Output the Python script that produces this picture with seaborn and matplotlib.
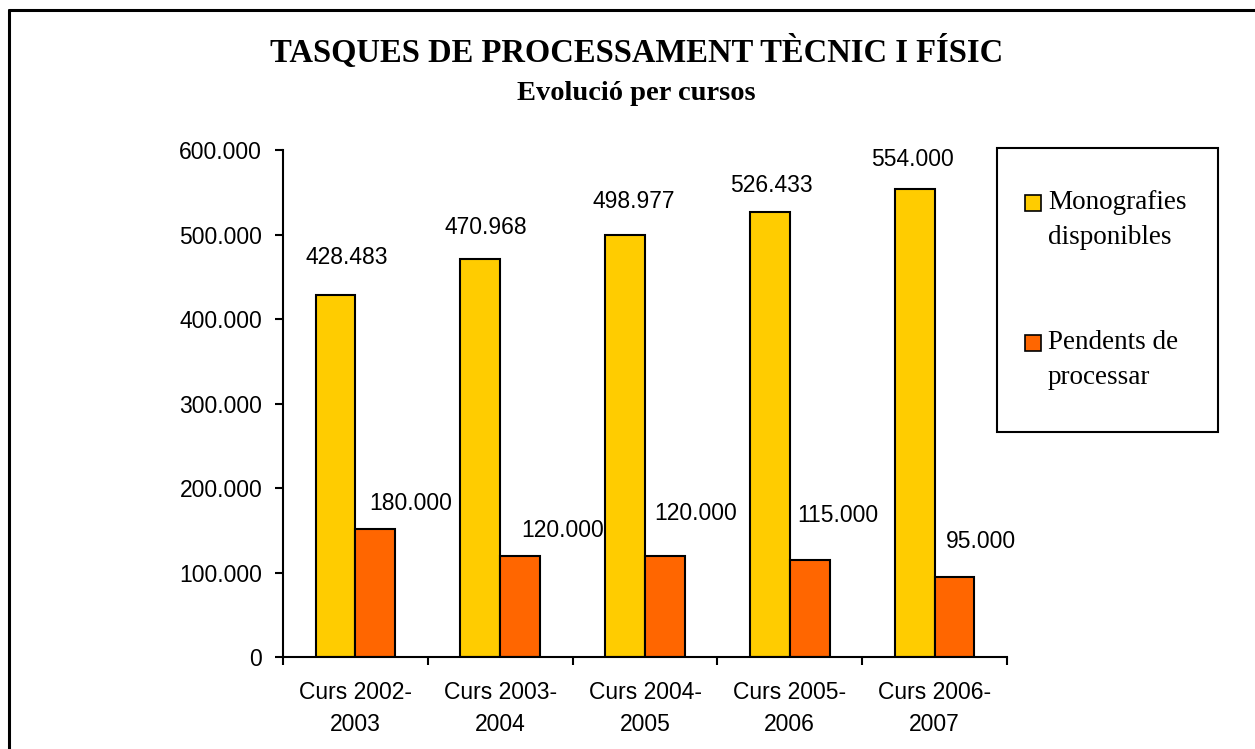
import matplotlib
matplotlib.use("Agg")
import matplotlib.pyplot as plt
import seaborn as sns
import pandas as pd
from matplotlib.ticker import FuncFormatter, FixedLocator
from matplotlib.patches import Rectangle
from matplotlib.lines import Line2D

# Data
cursos = ["Curs 2002-\n2003", "Curs 2003-\n2004", "Curs 2004-\n2005",
          "Curs 2005-\n2006", "Curs 2006-\n2007"]
series = ["Monografies disponibles", "Pendents de processar"]
monografies = [428483, 470968, 498977, 526433, 554000]
pendents = [151000, 120000, 120000, 115000, 95000]
etiquetes_monografies = ["428.483", "470.968", "498.977", "526.433", "554.000"]
etiquetes_pendents = ["180.000", "120.000", "120.000", "115.000", "95.000"]
colors = ["#FFCC00", "#FF6600"]

df = pd.DataFrame({
    "curs": cursos * 2,
    "serie": [series[0]] * len(cursos) + [series[1]] * len(cursos),
    "valor": monografies + pendents,
})

sns.set_style("white")
plt.rcParams["font.family"] = ["Liberation Sans", "DejaVu Sans"]
plt.rcParams["text.color"] = "black"

fig = plt.figure(figsize=(12.55, 7.49), dpi=100)
ax = fig.add_axes([0.2255, 0.1228, 0.5769, 0.6769])

sns.barplot(data=df, x="curs", y="valor", hue="serie", palette=colors,
            saturation=1, width=0.55, edgecolor="black", linewidth=1.5,
            legend=False, ax=ax)

# data labels (Excel placed them by hand, offsets in px)
off_mono = [(11, 37), (6, 32), (9, 34), (2, 27), (-2, 29)]
off_pend = [(35, 26), (43, 25), (31, 42), (28, 44), (26, 35)]
px = 0.72
for cont, labels, offs in [(ax.containers[0], etiquetes_monografies, off_mono),
                           (ax.containers[1], etiquetes_pendents, off_pend)]:
    for bar, lab, (dx, dy) in zip(cont, labels, offs):
        ax.annotate(lab, (bar.get_x() + bar.get_width() / 2, bar.get_height()),
                    xytext=(dx * px, dy * px), textcoords="offset points",
                    ha="center", va="center", fontsize=16.5, color="black")

ax.set_ylim(0, 600000)
ax.set_xlim(-0.5, len(cursos) - 0.5)
ax.set_yticks(range(0, 600001, 100000))
ax.yaxis.set_major_formatter(FuncFormatter(lambda v, p: f"{v:,.0f}".replace(",", ".")))
ax.xaxis.set_minor_locator(FixedLocator([i - 0.5 for i in range(len(cursos) + 1)]))
ax.set_xlabel("")
ax.set_ylabel("")

for s in ["top", "right"]:
    ax.spines[s].set_visible(False)
for s in ["left", "bottom"]:
    ax.spines[s].set_color("black")
    ax.spines[s].set_linewidth(1.5)

ax.tick_params(axis="y", left=True, direction="out", length=6, width=1.5,
               pad=9, labelsize=16.5, colors="black")
ax.tick_params(axis="x", which="major", bottom=True, length=0, pad=17,
               labelsize=16.5, colors="black")
ax.tick_params(axis="x", which="minor", bottom=True, direction="out",
               length=6, width=1.5, color="black")
for t in ax.get_xticklabels():
    t.set_linespacing(1.5)

# titles
fig.text(0.507, 0.9306, "TASQUES DE PROCESSAMENT TÈCNIC I FÍSIC", ha="center",
         va="center", family="Liberation Serif", weight="bold", fontsize=23.5)
fig.text(0.507, 0.8758, "Evolució per cursos", ha="center", va="center",
         family="Liberation Serif", weight="bold", fontsize=20.5)

# legend, drawn by hand like the Excel box: marker next to first line
W, H = 1255, 749
legend_labels = [("Monografies", "disponibles"), ("Pendents de", "processar")]
legend_rows = [203, 343]
fig.add_artist(Rectangle((997 / W, 1 - 432 / H), 221 / W, 284 / H,
                         transform=fig.transFigure, fill=False,
                         edgecolor="black", linewidth=1.5))
for c, (l1, l2), yc in zip(colors, legend_labels, legend_rows):
    fig.add_artist(Rectangle((1025 / W, 1 - (yc + 8) / H), 16 / W, 16 / H,
                             transform=fig.transFigure, facecolor=c,
                             edgecolor="black", linewidth=1.2))
    fig.text(1048 / W, 1 - yc / H, l1, ha="left", va="center",
             family="Liberation Serif", fontsize=19.5)
    fig.text(1048 / W, 1 - (yc + 35) / H, l2, ha="left", va="center",
             family="Liberation Serif", fontsize=19.5)

# outer frame (only left and top visible in the crop)
fig.add_artist(Line2D([8.5 / W, 8.5 / W], [0, 1 - 9.5 / H],
                      transform=fig.transFigure, color="black", linewidth=2.2))
fig.add_artist(Line2D([8.5 / W, 1], [1 - 9.5 / H, 1 - 9.5 / H],
                      transform=fig.transFigure, color="black", linewidth=2.2))

fig.savefig("out.png", dpi=100)
